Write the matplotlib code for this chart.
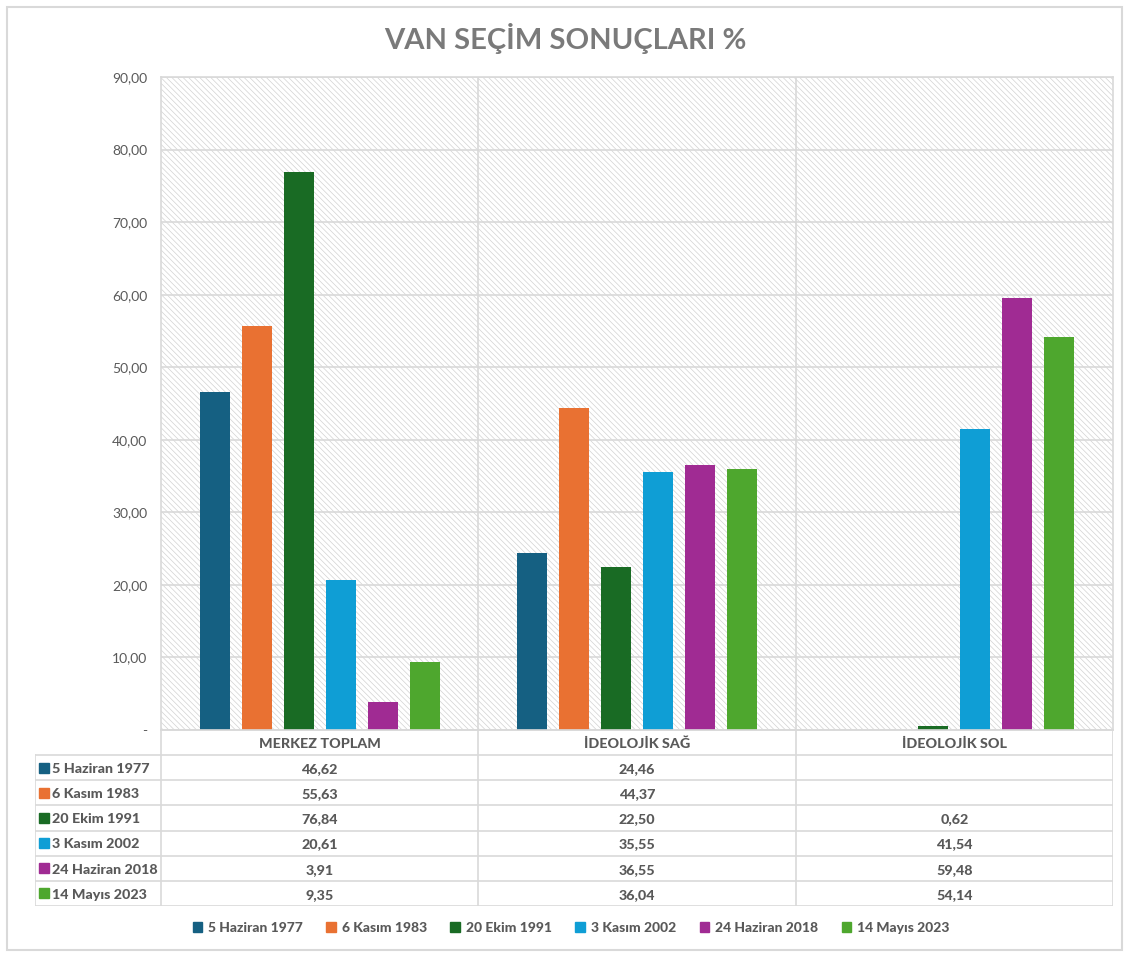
import matplotlib
matplotlib.use('Agg')
import matplotlib.pyplot as plt
from matplotlib.patches import Rectangle, Patch

categories = ['MERKEZ TOPLAM', 'İDEOLOJİK SAĞ', 'İDEOLOJİK SOL']
elections = ['5 Haziran 1977', '6 Kasım 1983', '20 Ekim 1991',
             '3 Kasım 2002', '24 Haziran 2018', '14 Mayıs 2023']
merkez = [46.62, 55.63, 76.84, 20.61, 3.91, 9.35]
sag = [24.46, 44.37, 22.50, 35.55, 36.55, 36.04]
sol = [None, None, 0.62, 41.54, 59.48, 54.14]
colors = ['#156082', '#E97132', '#196B24', '#0F9ED5', '#A02B93', '#4EA72E']
yticks = [0, 10, 20, 30, 40, 50, 60, 70, 80, 90]

FONT = ['Lato', 'DejaVu Sans']
TXT = '#595959'
GRID = '#d9d9d9'
plt.rcParams['hatch.linewidth'] = 0.5

W, H = 1130, 955
fig = plt.figure(figsize=(W / 100, H / 100), dpi=100)

def fmt(v):
    return '' if v is None else f'{v:.2f}'.replace('.', ',')

# chart area
ax = fig.add_axes([161 / W, 1 - 730 / H, 952 / W, 653 / H])
ax.set_xlim(-0.5, 2.5)
ax.set_ylim(0, 90)
ax.add_patch(Rectangle((0, 0), 1, 1, transform=ax.transAxes, facecolor='white',
                       edgecolor='#d2d2d2', hatch='\\\\\\\\\\\\', linewidth=0, zorder=0))
ax.set_axisbelow(True)
ax.yaxis.grid(True, color=GRID, lw=1.2)
for x in [0.5, 1.5]:
    ax.axvline(x, color=GRID, lw=1.2, zorder=0.6)
for s in ax.spines.values():
    s.set_color(GRID)
    s.set_linewidth(1.2)

px_unit = 952 / 3
bw = 30 / px_unit
step = 42 / px_unit
for i, name in enumerate(elections):
    vals = [merkez[i], sag[i], sol[i]]
    for j, v in enumerate(vals):
        if v is None:
            continue
        ax.bar(j + (i - 2.5) * step, v, width=bw, color=colors[i], zorder=2)

ax.set_yticks(yticks)
ax.set_yticklabels(['-' if t == 0 else fmt(float(t)) for t in yticks],
                   family=FONT)
ax.set_xticks([])
ax.tick_params(axis='y', length=0, pad=10, labelsize=10, labelcolor=TXT)

# data table
tax = fig.add_axes([35 / W, 1 - 906 / H, 1078 / W, 176 / H])
left = -0.5 - 126 / px_unit
tax.set_xlim(left, 2.5)
tax.set_ylim(7, 0)
tax.axis('off')
tax.plot([-0.5, 2.5], [0, 0], color=GRID, lw=1.2)
for r in range(1, 8):
    tax.plot([left, 2.5], [r, r], color=GRID, lw=1.2)
tax.plot([left, left], [1, 7], color=GRID, lw=1.2)
for x in [-0.5, 0.5, 1.5, 2.5]:
    tax.plot([x, x], [0, 7], color=GRID, lw=1.2)

bold = dict(family=FONT, weight=900, color=TXT, fontsize=10.3)
for j, c in enumerate(categories):
    tax.text(j, 0.55, c, ha='center', va='center', **bold)
for i, name in enumerate(elections):
    vals = [merkez[i], sag[i], sol[i]]
    tax.plot(left + 9 / px_unit, i + 1.5, marker='s', ms=7, color=colors[i], ls='none')
    tax.text(left + 17 / px_unit, i + 1.55, name, ha='left', va='center', **bold)
    for j, v in enumerate(vals):
        tax.text(j, i + 1.55, fmt(v), ha='center', va='center', **bold)

# legend
handles = [Patch(color=c) for c in colors]
fig.legend(handles, elections, loc='center', bbox_to_anchor=(571 / W, 1 - 928 / H),
           ncol=6, frameon=False, handlelength=0.7, handleheight=0.7,
           handletextpad=0.4, columnspacing=1.7, labelcolor=TXT,
           prop=dict(family=FONT, weight=900, size=10))

fig.text(565 / W, 1 - 38 / H, 'VAN SEÇİM SONUÇLARI %', ha='center', va='center',
         fontsize=21, fontweight='bold', color='#7a7a7a', family=FONT)

fig.add_artist(Rectangle((7 / W, 5 / H), 1115 / W, 943 / H, transform=fig.transFigure,
                         fill=False, edgecolor=GRID, lw=1.5))

fig.savefig('out.png', dpi=100)
